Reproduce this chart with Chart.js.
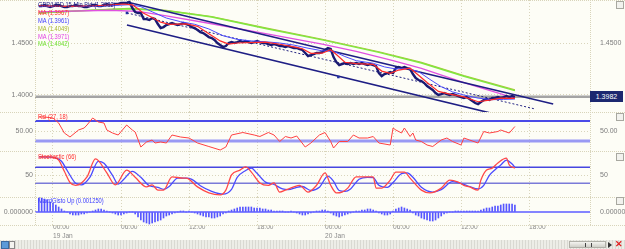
<!DOCTYPE html>
<html><head><meta charset="utf-8">
<script src="https://cdn.jsdelivr.net/npm/chart.js@4.4.1/dist/chart.umd.min.js"></script>
<style>
html,body{margin:0;padding:0;background:#fdfdf6;width:625px;height:249px;overflow:hidden;}
#wrap{position:relative;width:625px;height:249px;font-family:"Liberation Sans",Arial,sans-serif;}
canvas{position:absolute;left:0;display:block;}
.lg{position:absolute;left:38px;font-family:"Liberation Sans",Arial,sans-serif;font-size:7px;line-height:8px;white-space:nowrap;transform:scaleX(0.82);transform-origin:0 0;}
.hsep{position:absolute;left:0;width:625px;height:0;border-top:1px dotted #d8d4ba;}
.vsep{position:absolute;top:0;height:225px;width:0;border-left:1px dotted #d8d4ba;}
.btn{position:absolute;left:616px;width:6px;height:6px;border:1px solid #a8a8a0;background:#f2f2ee;}
#price{position:absolute;left:590px;top:91px;width:33px;height:11px;background:#1c2870;color:#fff;font-size:7px;line-height:11px;text-align:center;}
#sbar{position:absolute;left:0;top:240px;width:625px;height:9px;background:repeating-linear-gradient(90deg,#d9d9d2 0 1px,#ededE7 1px 3px);}
#thumb{position:absolute;left:569px;top:1px;width:37px;height:7px;background:linear-gradient(#f4f4f0,#cfcfc8);border:1px solid #b0b0a8;box-sizing:border-box;}
#grip{position:absolute;left:15px;top:1px;width:5px;height:4px;border-left:1px solid #444;border-right:1px solid #444;}
</style></head>
<body><div id="wrap">
<canvas id="cMain" width="625" height="112" style="top:0px"></canvas>
<canvas id="cRsi" width="625" height="39" style="top:112px"></canvas>
<canvas id="cSto" width="625" height="46" style="top:151px"></canvas>
<canvas id="cMacd" width="625" height="43" style="top:197px"></canvas>
<div class="hsep" style="top:0px"></div>
<div class="hsep" style="top:112px"></div>
<div class="hsep" style="top:151px"></div>
<div class="hsep" style="top:197px"></div>
<div class="hsep" style="top:225px"></div>
<div class="vsep" style="left:35px"></div>
<div class="vsep" style="left:590px"></div>
<div class="lg" style="top:1px;color:#20208a">GBP/USD 15 Min Bid (1.3982)</div>
<div class="lg" style="top:9px;color:#ff3030">MA (1.3967)</div>
<div class="lg" style="top:17px;color:#3b3bff">MA (1.3961)</div>
<div class="lg" style="top:25px;color:#a8b830">MA (1.4049)</div>
<div class="lg" style="top:33px;color:#e040e0">MA (1.3971)</div>
<div class="lg" style="top:40px;color:#70e030">MA (1.4042)</div>
<div class="lg" style="top:113px;color:#ff3030">Rsi (27, 18)</div>
<div class="lg" style="top:153px;color:#ff3030">Stochastic (66)</div>
<div class="lg" style="top:197px;color:#3b3bff">MacdGisto Up (0.001250)</div>
<div id="price">1.3982</div>
<div class="btn" style="top:1px"></div>
<div class="btn" style="top:113px"></div>
<div class="btn" style="top:153px"></div>
<div class="btn" style="top:197px"></div>
<div id="sbar"><div style="position:absolute;left:1px;top:1px;width:6px;height:6px;background:#5a9ad8;border:1px solid #3a6aa0"></div><div style="position:absolute;left:9px;top:1px;width:4px;height:6px;background:#f4f4f0;border:1px solid #888"></div><div id="thumb"><div id="grip"></div></div><div style="position:absolute;left:608px;top:2px;width:0;height:0;border-left:4px solid #333;border-top:3px solid transparent;border-bottom:3px solid transparent"></div><div style="position:absolute;left:615px;top:0px;color:#e02020;font-size:9px;line-height:9px;font-weight:bold">✕</div></div>
</div>
<script>
// ---------- data ----------
const tickIdx=[5,29,53,77,101,125,149,173];
const tickTimes=["00:00","06:00","12:00","18:00","00:00","06:00","12:00","18:00"];
const tickDates=["19 Jan","","","","20 Jan","","",""];
const closes=[1.4855,1.4855,1.4865,1.4855,1.4846,1.4855,1.4865,1.4865,1.4855,1.4846,1.4846,1.4855,1.4855,1.4865,1.4855,1.4855,1.4846,1.4846,1.4855,1.4865,1.4865,1.4855,1.4855,1.4865,1.4875,1.4865,1.4865,1.4875,1.4875,1.4884,1.4884,1.4884,1.4894,
1.4836,1.4798,1.4788,1.4788,1.4730,1.4730,1.4721,1.4740,1.4730,1.4682,1.4644,1.4653,
1.4673,1.4682,1.4692,1.4682,1.4673,1.4682,1.4692,1.4682,1.4673,
1.4653,1.4644,1.4625,1.4605,1.4596,1.4577,1.4557,1.4548,1.4529,1.4500,1.4481,1.4461,1.4471,
1.4500,1.4509,1.4500,1.4509,1.4519,1.4509,1.4519,1.4509,1.4500,1.4509,1.4519,1.4509,1.4500,1.4500,
1.4490,1.4481,1.4490,1.4481,1.4471,1.4471,1.4461,1.4471,1.4461,1.4452,1.4452,1.4442,1.4433,
1.4404,1.4375,1.4384,1.4394,1.4404,1.4404,1.4413,1.4433,1.4452,1.4442,1.4365,1.4317,1.4288,
1.4298,1.4307,1.4298,1.4307,1.4298,1.4307,1.4298,1.4307,1.4298,1.4288,1.4298,1.4288,1.4278,
1.4211,1.4182,1.4202,1.4211,1.4221,1.4211,1.4259,1.4269,1.4259,1.4269,1.4259,1.4250,
1.4202,1.4163,1.4144,1.4134,1.4115,1.4086,1.4067,1.4048,1.4019,1.4000,1.4009,
1.4019,1.4009,1.4000,1.4009,1.4000,1.3990,1.3980,1.3971,1.3980,1.3961,1.3942,1.3923,1.3913,1.3932,
1.3952,1.3961,1.3952,1.3971,1.3971,1.3980,1.3971,1.3980,1.3990,1.3980,1.3990,1.3982];
const maRed=[[0,1.4858],[10,1.4853],[20,1.4858],[30,1.4875],[33,1.4866],[35,1.4830],[37,1.4785],[40,1.4745],[43,1.4700],[46,1.4680],[52,1.4683],[56,1.4660],[60,1.4590],[64,1.4520],[67,1.4490],[70,1.4500],[80,1.4508],[85,1.4488],[90,1.4462],[93,1.4445],[96,1.4400],[100,1.4402],[103,1.4435],[105,1.4390],[108,1.4315],[112,1.4302],[118,1.4295],[121,1.4230],[124,1.4208],[127,1.4240],[131,1.4258],[134,1.4190],[137,1.4120],[141,1.4035],[145,1.4008],[150,1.3982],[155,1.3935],[159,1.3950],[163,1.3970],[168,1.3967]];
const maBlue=[[0,1.4850],[20,1.4852],[32,1.4868],[36,1.4850],[40,1.4800],[45,1.4740],[50,1.4705],[55,1.4680],[60,1.4635],[65,1.4570],[70,1.4535],[75,1.4520],[80,1.4512],[85,1.4500],[90,1.4480],[95,1.4450],[100,1.4425],[104,1.4420],[108,1.4370],[112,1.4330],[118,1.4305],[122,1.4270],[126,1.4250],[130,1.4255],[134,1.4225],[138,1.4150],[142,1.4080],[146,1.4030],[150,1.4000],[155,1.3970],[160,1.3955],[164,1.3958],[168,1.3961]];
const maMagenta=[[0,1.4800],[25,1.4815],[35,1.4805],[45,1.4760],[60,1.4690],[80,1.4590],[100,1.4490],[112,1.4420],[125,1.4330],[135,1.4255],[150,1.4120],[168,1.3971]];
const maGreen=[[0,1.4788],[15,1.4810],[32,1.4830],[45,1.4810],[56,1.4770],[61,1.4750],[80,1.4640],[100,1.4530],[120,1.4410],[135,1.4307],[150,1.4180],[168,1.4042]];
const maOlive=[[0,1.4790],[15,1.4812],[32,1.4832],[45,1.4813],[56,1.4773],[61,1.4754],[80,1.4645],[100,1.4536],[120,1.4416],[135,1.4313],[150,1.4186],[168,1.4049]];
const chanUpper=[[31.1,1.4894],[181.5,1.3914]];
const chanMid=[[31.1,1.4789],[175.2,1.3865]];
const chanLower=[[31.1,1.4673],[160,1.3823]];
const chanMarks=[[31.1,1.4789],[105.7,1.4173]];
const lastPrice=1.3982;
const rsi=[[0,78],[2,78],[5,76],[7,66],[9,46],[11,38],[14,52],[16,56],[17,62],[19,76],[21,68],[23,66],[24,52],[26,46],[28,42],[31,62],[33,52],[34,48],[36,18],[38,28],[40,32],[41,26],[43,28],[45,26],[47,42],[50,38],[53,36],[56,26],[60,19],[64,12],[66,18],[68,42],[72,47],[76,42],[78,39],[81,47],[83,42],[85,29],[87,39],[89,36],[91,40],[94,18],[96,26],[99,42],[101,47],[103,29],[104,16],[106,29],[109,29],[111,42],[113,36],[116,36],[118,39],[120,26],[124,22],[125,56],[126,52],[128,46],[129,56],[131,39],[132,46],[133,32],[135,29],[137,22],[139,19],[142,32],[144,36],[146,29],[149,22],[150,36],[152,32],[155,26],[157,49],[159,46],[162,49],[163,52],[166,46],[168,59]];
const rsiLevels=[70,30];
const stochK=[[0,96],[4,96],[7,88],[9,60],[11,32],[13,25],[17,46],[20,91],[24,56],[27,26],[31,63],[34,45],[38,21],[40,26],[42,13],[44,13],[47,46],[51,43],[52,43],[56,21],[60,6],[64,1],[66,13],[68,51],[71,63],[73,71],[75,58],[78,31],[81,25],[83,31],[85,8],[87,13],[90,21],[92,25],[95,8],[98,25],[101,56],[103,25],[105,6],[107,8],[109,18],[112,46],[114,46],[118,46],[119,18],[121,18],[124,38],[126,58],[129,58],[131,43],[135,13],[138,6],[142,18],[145,38],[148,33],[150,25],[152,21],[155,13],[156,38],[158,63],[160,68],[162,81],[165,93],[166,76],[168,68]];
const stochD=[[0,96],[5,95],[8,85],[10,62],[13,30],[15,26],[18,45],[21,85],[23,80],[26,50],[28,28],[30,40],[33,60],[36,45],[39,24],[42,20],[44,15],[46,22],[49,43],[52,43],[54,40],[57,24],[61,10],[65,3],[68,15],[70,45],[73,62],[75,68],[77,55],[80,33],[83,27],[86,16],[88,14],[91,20],[93,22],[96,12],[99,20],[102,48],[104,35],[106,12],[108,10],[110,16],[113,40],[116,45],[118,44],[120,25],[123,20],[125,32],[128,54],[130,56],[132,45],[135,20],[139,8],[142,14],[146,34],[149,30],[152,22],[155,16],[157,25],[159,50],[161,64],[163,76],[165,88],[167,78],[168,70]];
const stochLevels=[70,30];
const macdHist=[0.0027,0.00252,0.00234,0.00216,0.0018,0.00162,0.00126,0.0009,0.00054,0.00018,0,
-0.00036,-0.00054,-0.00054,-0.00054,-0.00036,-0.00036,-0.00018,0,0.00018,
0.00036,0.00054,0.00054,0.00036,0.00018,0,-0.00018,
-0.00036,-0.00054,-0.00054,-0.00036,-0.00018,0,0,
-0.00036,-0.0009,-0.00144,-0.0018,-0.00198,-0.00216,-0.00198,-0.0018,-0.00162,-0.00144,-0.00108,
-0.00072,-0.00054,-0.00036,-0.00018,0,0.00018,0.00018,0,0.00018,0,-0.00018,
-0.00036,-0.00054,-0.00072,-0.0009,-0.0009,-0.00108,-0.00108,-0.0009,-0.00072,-0.00036,-0.00018,
0.00018,0.00036,0.00054,0.00072,0.0009,0.0009,0.0009,0.0009,0.0009,0.00072,0.00072,0.00072,0.00054,0.00054,
0.00036,0.00036,0.00018,0.00018,0.00018,0.00018,0,0,0.00018,0,
-0.00018,-0.00036,-0.00054,-0.00054,-0.00036,-0.00018,0,0.00018,0.00018,0.00036,0.00036,0.00018,
-0.00018,-0.00054,-0.00072,-0.0009,-0.00072,-0.00054,-0.00036,-0.00018,0,
0.00018,0.00018,0.00036,0.00036,0.00054,0.00054,0.00036,0.00018,
-0.00018,-0.00036,-0.00054,-0.00054,-0.00036,
0.00018,0.00054,0.00072,0.0009,0.00072,0.00054,0.00036,
-0.00018,-0.00054,-0.00072,-0.00108,-0.00126,-0.00144,-0.00162,-0.00162,-0.00144,-0.00108,-0.00072,
-0.00036,-0.00018,0,0,
0.00018,0.00018,0.00018,0.00018,0.00018,0.00018,0.00018,0.00018,0.00018,
0.00036,0.00054,0.00072,0.00072,0.0009,0.00108,0.00108,0.00126,0.00144,0.00144,0.00144,0.00144,0.00125];

// ---------- helpers ----------
const xMin=-1.35, xMax=194.5;
const FONT='"Liberation Sans", Arial, sans-serif';
const GRID='#d9d5bc';
const pts=a=>a.map(([x,y])=>({x,y}));
const span=v=>[{x:xMin,y:v},{x:xMax,y:v}];
function xAxis(show){
  return {type:'linear',min:xMin,max:xMax,offset:false,
    afterBuildTicks:s=>{s.ticks=tickIdx.map(v=>({value:v}));},
    afterFit:s=>{s.height=show?15:0;s.paddingLeft=0;s.paddingRight=0;},
    grid:{color:GRID,drawTicks:false,lineWidth:1,offset:false},
    border:{display:false,dash:[1,2]},
    ticks:{display:show,align:'start',padding:-1.5,autoSkip:false,maxRotation:0,color:'#8a8a8a',
      font:{family:FONT,size:6.6,lineHeight:1.24},
      callback:(v,i)=>tickDates[i]?[tickTimes[i],tickDates[i]]:tickTimes[i]}};
}
function yAxes(min,max,lv,ll,rv,rl){
  return {
    y:{type:'linear',position:'left',min,max,
      afterBuildTicks:s=>{s.ticks=lv.map(v=>({value:v}));},
      afterFit:s=>{s.width=35;s.paddingTop=0;s.paddingBottom=0;},
      grid:{color:GRID,drawTicks:false},border:{display:false,dash:[1,2]},
      ticks:{padding:2,color:'#7c7c7c',font:{family:FONT,size:7},callback:(v,i)=>ll[i]}},
    y2:{type:'linear',position:'right',min,max,
      afterBuildTicks:s=>{s.ticks=rv.map(v=>({value:v}));},
      afterFit:s=>{s.width=35;s.paddingTop=0;s.paddingBottom=0;},
      grid:{display:false},border:{display:false},
      ticks:{padding:2,color:'#7c7c7c',font:{family:FONT,size:7},callback:(v,i)=>rl[i]}}
  };
}
function opts(showX,ya){
  return {responsive:false,animation:false,events:[],
    layout:{padding:0,autoPadding:false},
    plugins:{legend:{display:false},tooltip:{enabled:false}},
    elements:{point:{radius:0},line:{tension:0}},
    scales:Object.assign({x:xAxis(showX)},ya)};
}
const L=(data,color,w,extra)=>Object.assign({type:'line',data,borderColor:color,borderWidth:w,pointRadius:0,fill:false},extra||{});

// ---------- main pane ----------
new Chart(document.getElementById('cMain'),{type:'line',
  data:{datasets:[
    L(pts(chanMarks),'#1a1a80',0,{showLine:false,pointRadius:1.8,pointStyle:'rect',pointBackgroundColor:'#2030a0',pointBorderWidth:0}),
    L(pts(maRed),'#ff2a2a',1.2),
    L(pts(maBlue),'#4a4aff',1),
    L(closes.map((y,x)=>({x,y})),'#1a1a72',2.4),
    L(pts(chanMid),'#202080',1,{borderDash:[2,2]}),
    L(pts(chanUpper),'#1e1e84',1.6),
    L(pts(chanLower),'#1e1e84',1.6),
    L(pts(maMagenta),'#e050e0',1.3),
    L(pts(maGreen),'#80e840',1.5),
    L(pts(maOlive),'#b0c040',1.2),
    L(span(lastPrice),'#a4a4a4',2.5)
  ]},
  options:opts(false,yAxes(1.38365,1.49135,[1.45,1.40],['1.4500','1.4000'],[1.45],['1.4500']))});

// ---------- RSI pane ----------
new Chart(document.getElementById('cRsi'),{type:'line',
  data:{datasets:[
    L(pts(rsi),'#ff4040',1),
    L(span(rsiLevels[0]),'#4a4ae8',2),
    L(span(rsiLevels[1]),'#9a9af4',3)
  ]},
  options:opts(false,yAxes(10,88,[50],['50.00'],[50],['50.00']))});

// ---------- Stochastic pane ----------
new Chart(document.getElementById('cSto'),{type:'line',
  data:{datasets:[
    L(pts(stochK),'#ff4848',1.3,{cubicInterpolationMode:'monotone'}),
    L(pts(stochD),'#4a4aff',1.3,{cubicInterpolationMode:'monotone'}),
    L(span(stochLevels[0]),'#4646e0',1.6),
    L(span(stochLevels[1]),'#7a7ad8',1.6)
  ]},
  options:opts(false,yAxes(-4.25,110.75,[50],['50'],[50],['50']))});

// ---------- MACD pane ----------
new Chart(document.getElementById('cMacd'),{type:'bar',
  data:{datasets:[
    {type:'bar',data:macdHist.map((y,x)=>({x,y})),backgroundColor:'#5656ff',barThickness:1,grouped:false,borderWidth:0},
    L(span(0),'#8484ff',2)
  ]},
  options:opts(true,yAxes(-0.00234,0.0027,[0],['0.000000'],[0],['0.000000']))});
</script>
</body></html>
